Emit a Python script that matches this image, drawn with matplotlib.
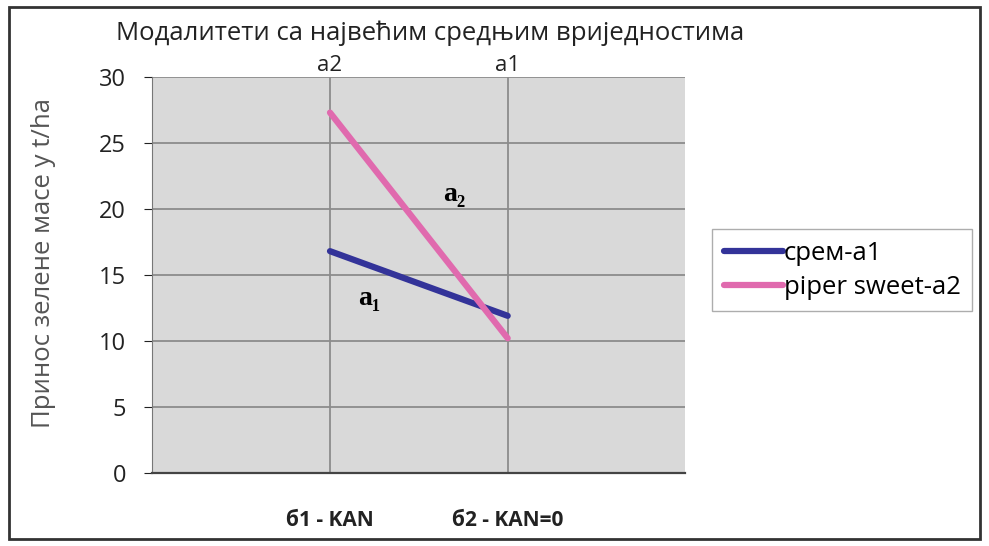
from matplotlib import pyplot as plt
from matplotlib.patches import Rectangle

# data
categories = ["б1 - KAN", "б2 - KAN=0"]
top_labels = ["a2", "a1"]
srem_a1 = [16.8, 11.9]
piper_a2 = [27.3, 10.2]
yticks = [0, 5, 10, 15, 20, 25, 30]

plt.rcParams['font.family'] = ['Open Sans', 'DejaVu Sans']

fig = plt.figure(figsize=(9.89, 5.46), dpi=100)
ax = fig.add_axes([0.154, 0.134, 0.539, 0.725])
ax.set_facecolor('#d9d9d9')

xs = [i + 1 for i, _ in enumerate(categories)]
ax.plot(xs, srem_a1, color='#333399', linewidth=4.5, solid_capstyle='round', label='срем-a1')
ax.plot(xs, piper_a2, color='#e06aae', linewidth=4.5, solid_capstyle='round', label='piper sweet-a2')

ax.set_xlim(0, 3)
ax.set_ylim(0, 30)
ax.set_yticks(yticks)
ax.set_xticks(xs)
ax.set_xticklabels(categories, fontsize=15, fontweight='bold', color='#222222')
ax.tick_params(axis='x', length=0, pad=27)
ax.tick_params(axis='y', labelsize=17, length=6, pad=13, colors='#222222')
ax.grid(True, color='#8c8c8c', linewidth=1.3)
ax.set_axisbelow(True)
for s in ['top', 'right']:
    ax.spines[s].set_visible(False)
ax.spines['left'].set_color('#777777')
ax.spines['bottom'].set_color('#444444')
ax.spines['bottom'].set_linewidth(1.6)

# top labels
ax2 = ax.twiny()
ax2.set_xlim(ax.get_xlim())
ax2.set_xticks(xs)
ax2.set_xticklabels(top_labels, fontsize=16, color='#222222')
ax2.tick_params(axis='x', length=0, pad=1)
for s in ax2.spines.values():
    s.set_visible(False)

ax.set_ylabel("Принос зелене масе у t/ha", fontsize=18.5, color='#555555')
ax.yaxis.set_label_coords(-0.18, 0.53)
fig.text(0.435, 0.94, "Модалитети са највећим средњим вриједностима",
         fontsize=18.5, ha='center', va='center', color='#222222')

# annotations on lines
ax.text(1.7, 21.1, "a₂", fontsize=20, fontweight='bold', family='Liberation Serif',
        ha='center', va='center')
ax.text(1.22, 13.2, "a₁", fontsize=20, fontweight='bold', family='Liberation Serif',
        ha='center', va='center')

fig.legend(loc='center left', bbox_to_anchor=(0.72, 0.505), fontsize=18.5,
           frameon=True, fancybox=False, edgecolor='#999999', handlelength=2.3,
           handletextpad=0.05, borderpad=0.45, labelspacing=0.35, borderaxespad=0)

fig.patches.append(Rectangle((0.009, 0.012), 0.982, 0.975, transform=fig.transFigure,
                             fill=False, edgecolor='#333333', linewidth=2))

plt.savefig('out.png', dpi=100)
